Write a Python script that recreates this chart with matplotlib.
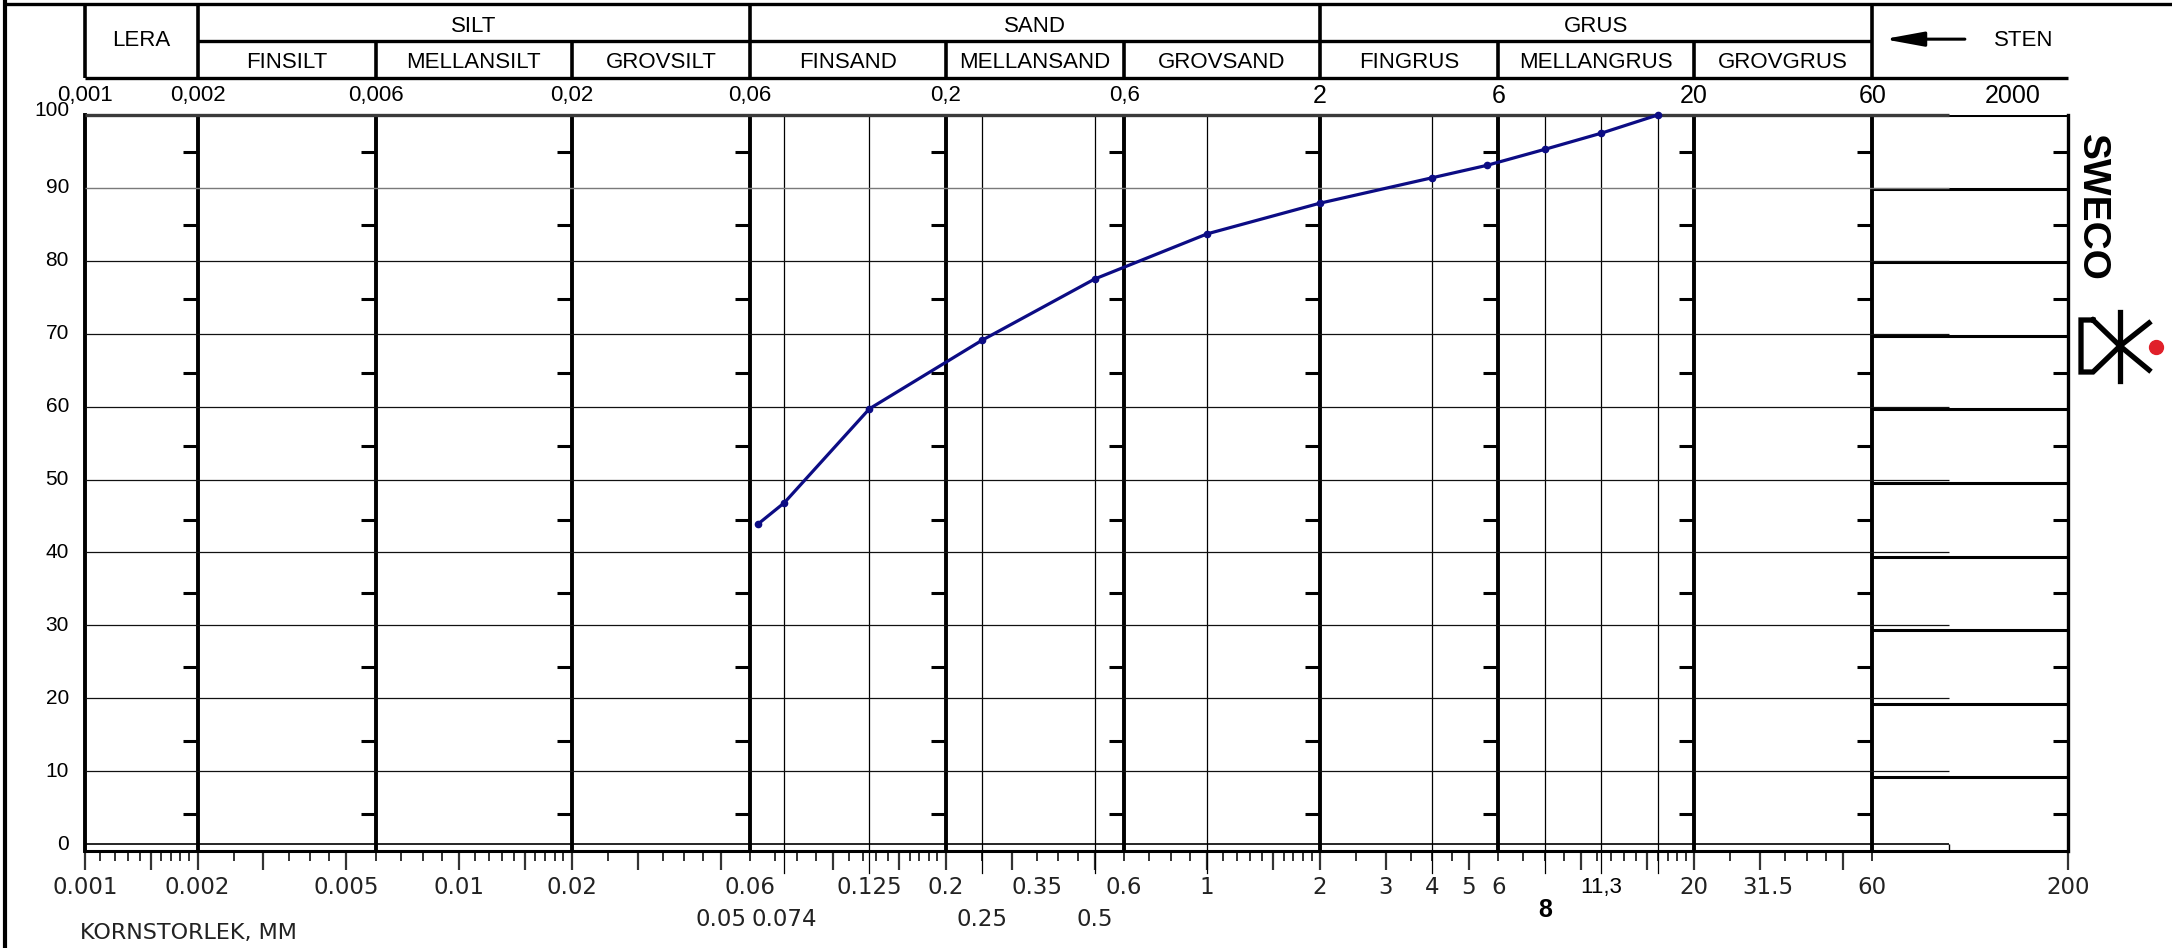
#!/usr/bin/env python3
""" Grain size distribution chart (kornfördelningsdiagram).
Draws the sieve curve on the standard Swedish grain size form with the
LERA / SILT / SAND / GRUS / STEN header and the log-scaled size axis.
"""

import matplotlib
matplotlib.use('Agg')
import matplotlib.pyplot as plt
import matplotlib.transforms as mtransforms
from matplotlib.lines import Line2D
from matplotlib.ticker import FixedLocator, NullFormatter

# Sieve analysis: grain size (mm) and percent passing
sieve_mm = [0.063, 0.074, 0.125, 0.25, 0.5, 1, 2, 4, 5.6, 8, 11.3, 16]
passing = [43.9, 46.8, 59.7, 69.1, 77.5, 83.7, 87.9, 91.4, 93.1, 95.3, 97.5, 100]

# Fraction boundaries (mm) and the header names
bounds = [0.001, 0.002, 0.006, 0.02, 0.06, 0.2, 0.6, 2, 6, 20, 60, 200]
main_classes = [('LERA', 0.001, 0.002), ('SILT', 0.002, 0.06),
                ('SAND', 0.06, 2), ('GRUS', 2, 60)]
sub_classes = ['FINSILT', 'MELLANSILT', 'GROVSILT',
               'FINSAND', 'MELLANSAND', 'GROVSAND',
               'FINGRUS', 'MELLANGRUS', 'GROVGRUS']
top_labels = ['0,001', '0,002', '0,006', '0,02', '0,06', '0,2', '0,6',
              '2', '6', '20', '60']
sten_label_mm = 142

# Thin vertical lines at the sieves used
sieve_lines = [0.074, 0.125, 0.25, 0.5, 1, 4, 8, 11.3, 16]

# Labels under the size axis (two rows)
bottom_row1 = [(0.001, '0.001'), (0.002, '0.002'), (0.005, '0.005'),
               (0.01, '0.01'), (0.02, '0.02'), (0.06, '0.06'),
               (0.125, '0.125'), (0.2, '0.2'), (0.35, '0.35'), (0.6, '0.6'),
               (1, '1'), (2, '2'), (3, '3'), (4, '4'), (5, '5'), (6, '6'),
               (20, '20'), (31.5, '31.5'), (60, '60'), (200, '200')]
bottom_row2 = [(0.05, '0.05'), (0.074, '0.074'), (0.25, '0.25'), (0.5, '0.5')]

# Percent levels
grid_levels = [10, 20, 30, 40, 50, 60, 70, 80, 90]
tick_levels = [5, 15, 25, 35, 45, 55, 65, 75, 85, 95]
y_labels = [0, 10, 20, 30, 40, 50, 60, 70, 80, 90, 100]

# Size axis tick marks: long at 1, 1.5, 2, 3, 5 of each decade
mantissas = [1, 1.1, 1.2, 1.3, 1.4, 1.5, 1.6, 1.7, 1.8, 1.9,
             2, 2.5, 3, 3.5, 4, 4.5, 5, 6, 7, 8, 9]
long_mant = [1, 1.5, 2, 3, 5]
decades = [0.001, 0.01, 0.1, 1, 10]

# Figure geometry in pixels
W, H = 2172, 948
X0, X1 = 85, 2068          # size axis 0.001 .. 200
Y_TOP, Y_BOT = 115, 851    # form frame 100 .. 0
Y_ZERO = 844               # 0 % of the plotted curve
INNER_END = 96             # right end of the plotting grid (mm)


def fx(px):
    return px / W


def fy(py):
    return 1 - py / H


fig = plt.figure(figsize=(W / 100, H / 100), dpi=100)
sans = 'Liberation Sans'
din = 'DejaVu Sans'

# Form frame (outer scale) ---------------------------------------------------
ax = fig.add_axes([fx(X0), fy(Y_BOT), fx(X1) - fx(X0), fy(Y_TOP) - fy(Y_BOT)])
ax.set_xscale('log')
ax.set_xlim(0.001, 200)
ax.set_ylim(0, 100)
ax.patch.set_visible(False)
ax.spines['top'].set_visible(False)
ax.spines['left'].set_linewidth(2.8)
ax.spines['right'].set_linewidth(2.4)
ax.spines['bottom'].set_linewidth(2.2)
ax.set_yticks([])

long_ticks = [d * m for d in decades for m in long_mant if d * m <= 60] + [200]
short_ticks = [d * m for d in decades for m in mantissas
               if m not in long_mant and d * m <= 60]
ax.xaxis.set_major_locator(FixedLocator(long_ticks))
ax.xaxis.set_minor_locator(FixedLocator(short_ticks))
ax.xaxis.set_major_formatter(NullFormatter())
ax.xaxis.set_minor_formatter(NullFormatter())
ax.tick_params(axis='x', which='major', direction='out', length=14,
               width=1.6, color='#333333')
ax.tick_params(axis='x', which='minor', direction='out', length=7,
               width=1.4, color='#333333')

# Thick fraction boundaries and their short percent ticks
for b in bounds[1:-1]:
    ax.axvline(b, color='black', lw=2.8)
for b in bounds[1:]:
    ax.plot([b] * len(tick_levels), tick_levels, ls='none', marker=0,
            ms=11, mew=2.2, color='black', clip_on=False)

# STEN column with its own thick lines
ax.hlines(grid_levels + [100], 60, 200, color='black', lw=2.2)

# Thin sieve lines run down through the tick area
for s in sieve_lines:
    ax.axvline(s, ymin=-0.03, ymax=1, color='black', lw=0.9, clip_on=False)

# Small closing stroke of the plotting grid at its right end
zero_in_outer = (Y_BOT - Y_ZERO) / (Y_BOT - Y_TOP) * 100
ax.vlines(INNER_END, 0, zero_in_outer, color='black', lw=1.0)

# Plotting grid and curve (inner scale) -------------------------------------
ax_in = fig.add_axes([fx(X0), fy(Y_ZERO), fx(X1) - fx(X0),
                      fy(Y_TOP) - fy(Y_ZERO)])
ax_in.set_xscale('log')
ax_in.set_xlim(0.001, 200)
ax_in.set_ylim(0, 100)
ax_in.axis('off')

for lev in grid_levels:
    col = '#7a7a7a' if lev == 90 else '#111111'
    ax_in.hlines(lev, 0.001, INNER_END, color=col, lw=1.0 if lev == 90 else 0.9)
ax_in.hlines(0, 0.001, INNER_END, color='black', lw=1.2, clip_on=False)
ax_in.hlines(100, 0.001, INNER_END, color='#3a3a3a', lw=2.4, clip_on=False)

ax_in.plot(sieve_mm, passing, color='#0c0c84', lw=2.3, marker='o', ms=4.5,
           clip_on=False, zorder=5)

# Percent labels on the left
ylab_tr = mtransforms.blended_transform_factory(fig.transFigure,
                                                ax_in.transData)
for v in y_labels:
    ax_in.text(fx(69), v + (0.6 if v == 100 else 0), str(v), transform=ylab_tr,
               ha='right', va='center', fontsize=15, family=sans)

# Header -------------------------------------------------------------------
hdr = fig.add_axes([fx(X0), fy(78), fx(X1) - fx(X0), fy(4) - fy(78)])
hdr.set_xscale('log')
hdr.set_xlim(0.001, 200)
hdr.set_ylim(0, 2)
hdr.axis('off')

hdr.hlines(0, 0.001, 200, color='black', lw=2.4, clip_on=False)
hdr.hlines(1, 0.002, 60, color='black', lw=2.4, clip_on=False)
for b in [0.001, 0.002, 0.06, 2, 60]:
    hdr.vlines(b, 0, 2, color='black', lw=2.6, clip_on=False)
for b in [0.006, 0.02, 0.2, 0.6, 6, 20]:
    hdr.vlines(b, 0, 1, color='black', lw=2.6, clip_on=False)

for name, lo, hi in main_classes:
    yc = 1.0 if name == 'LERA' else 1.4
    hdr.text((lo * hi) ** 0.5, yc, name, ha='center', va='center',
             fontsize=16, family=sans)
for name, lo, hi in zip(sub_classes, bounds[1:10], bounds[2:11]):
    hdr.text((lo * hi) ** 0.5, 0.42, name, ha='center', va='center',
             fontsize=16, family=sans)

hdr.text(sten_label_mm * 1.07, 1.0, 'STEN', ha='center', va='center',
         fontsize=16, family=sans)
hdr.annotate('', xy=(64.4, 1.05), xytext=(106, 1.05),
             arrowprops=dict(arrowstyle='-|>,head_length=1.2,head_width=0.22',
                             lw=2.2, color='black', mutation_scale=20,
                             shrinkA=0, shrinkB=0))

# Size labels above the plot
top_tr = mtransforms.blended_transform_factory(ax.transData, fig.transFigure)
for b, lab in zip(bounds, top_labels):
    ax.text(b, fy(96), lab, transform=top_tr, ha='center', va='center',
            fontsize=18 if b >= 2 else 16, family=sans)
ax.text(sten_label_mm, fy(96), '2000', transform=top_tr, ha='center',
        va='center', fontsize=18, family=sans)

# Size labels below the plot
for v, lab in bottom_row1:
    ax.text(v, fy(888), lab, transform=top_tr, ha='center', va='center',
            fontsize=16.5, family=din, color='#222222')
for v, lab in bottom_row2:
    ax.text(v, fy(920), lab, transform=top_tr, ha='center', va='center',
            fontsize=16.5, family=din, color='#222222')
ax.text(11.3, fy(888), '11,3', transform=top_tr, ha='center', va='center',
        fontsize=16, family=sans)
ax.text(8, fy(910), '8', transform=top_tr, ha='center', va='center',
        fontsize=18, family=sans, weight='bold')
fig.text(fx(80), fy(933), 'KORNSTORLEK, MM', ha='left', va='center',
         fontsize=16, family=din, color='#222222')

# Outer form border
fig.add_artist(Line2D([fx(5), fx(5)], [fy(0), fy(H)], color='black', lw=3,
                      transform=fig.transFigure))
fig.add_artist(Line2D([fx(5), fx(W)], [fy(4), fy(4)], color='black', lw=2.4,
                      transform=fig.transFigure))

# Company mark on the right
fig.text(fx(2092), fy(207), 'SWECO', rotation=270, ha='center', va='center',
         fontsize=28, family=sans, weight='bold')
logo = [([2093, 2081, 2081, 2093, 2120, 2093], [320, 320, 372, 372, 346, 320]),
        ([2120, 2120], [312, 381]),
        ([2120, 2149], [346, 323]),
        ([2120, 2149], [346, 370])]
for xs, ys in logo:
    fig.add_artist(Line2D([fx(x) for x in xs], [fy(y) for y in ys],
                          color='black', lw=3.8, solid_joinstyle='miter',
                          transform=fig.transFigure))
fig.add_artist(Line2D([fx(2156)], [fy(347)], marker='o', ms=10, ls='none',
                      color='#e0202a', transform=fig.transFigure))

fig.savefig('out.png', dpi=100)
